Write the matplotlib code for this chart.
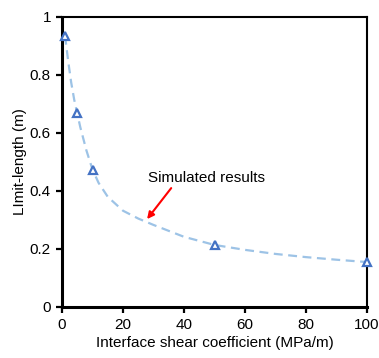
import matplotlib
matplotlib.use("Agg")
import matplotlib.pyplot as plt

# simulated points
sim_x = [1, 5, 10, 50, 100]
sim_y = [0.935, 0.668, 0.474, 0.214, 0.155]

# dashed trend curve
curve_x = [1, 2, 3, 4, 5, 6, 8, 10, 12, 15, 20, 25, 30, 40, 50, 60, 70, 80, 90, 100]
curve_y = [0.935, 0.85, 0.775, 0.715, 0.668, 0.62, 0.54, 0.474, 0.428, 0.38, 0.332,
           0.305, 0.283, 0.242, 0.214, 0.197, 0.183, 0.172, 0.163, 0.155]

plt.rcParams['font.family'] = ['Liberation Sans', 'DejaVu Sans']

fig = plt.figure(figsize=(3.79, 3.58), dpi=100)
ax = fig.add_axes([62 / 379, 1 - 307 / 358, 305 / 379, 290 / 358])

ax.plot(curve_x, curve_y, ls=(0, (4, 2.5)), color="#9dc3e6", lw=1.6, zorder=2)
ax.plot(sim_x, sim_y, ls="none", marker="^", ms=5.5, mfc="white", mec="#4472c4",
        mew=1.6, zorder=3, clip_on=False)

ax.set_xlim(0, 100)
ax.set_ylim(0, 1)
ax.set_xticks([0, 20, 40, 60, 80, 100])
ax.set_yticks([0, 0.2, 0.4, 0.6, 0.8, 1])
ax.set_yticklabels(["0", "0.2", "0.4", "0.6", "0.8", "1"])

for s in ["left", "bottom"]:
    ax.spines[s].set_linewidth(2.2)
for s in ["top", "right"]:
    ax.spines[s].set_linewidth(1.5)
ax.tick_params(which="both", direction="out", length=4, width=1.6, labelsize=11,
               pad=4, top=False, right=False)

ax.set_xlabel("Interface shear coefficient (MPa/m)", fontsize=11, labelpad=3)
ax.set_ylabel("LImit-length (m)", fontsize=11, labelpad=2)

ax.annotate("", xy=(27.9, 0.303), xytext=(35.8, 0.41),
            arrowprops=dict(arrowstyle="-|>", color="red", lw=1.5,
                            shrinkA=0, shrinkB=0, mutation_scale=10))
ax.text(28.2, 0.43, "Simulated results", fontsize=11, color="black",
        ha="left", va="baseline")

fig.savefig("out.png", dpi=100)
